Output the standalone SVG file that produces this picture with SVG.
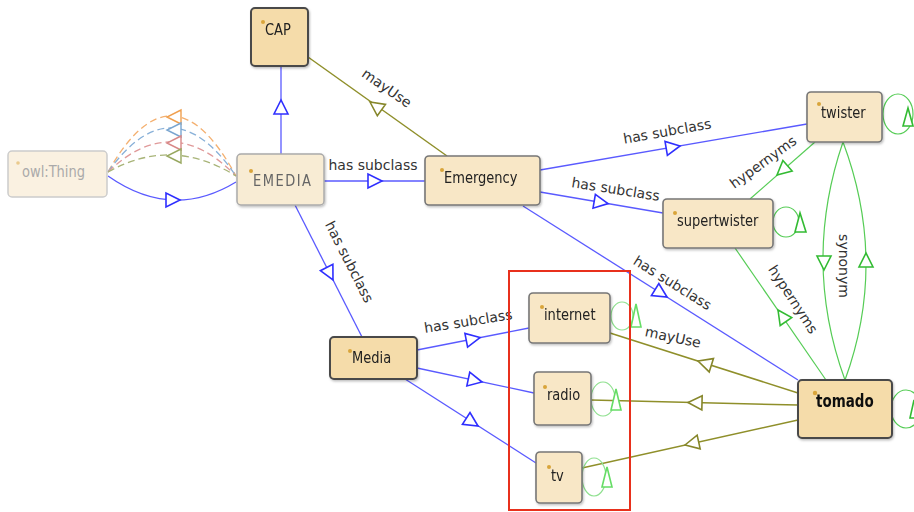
<svg xmlns="http://www.w3.org/2000/svg" width="914" height="512" viewBox="0 0 914 512">
<style>
.n rect{rx:4;ry:4}
.strong{fill:#f5dcaa;stroke:#4a4a4a;stroke-width:2}
.mid{fill:#f8e7c6;stroke:#777;stroke-width:1.6}
.lite{fill:#f8ecd4;stroke:#aaa;stroke-width:1.5}
.faint{fill:#faf1e1;stroke:#ccc;stroke-width:1.5}
.nt{font-family:"DejaVu Sans Condensed","DejaVu Sans",sans-serif;font-stretch:condensed;font-size:14.5px;fill:#222}
.lbl{font-family:"DejaVu Sans",sans-serif;font-size:14px;fill:#333;text-anchor:middle}
.dot{fill:#d9a43a}
.blue{stroke:#5a5aff;stroke-width:1.3;fill:none}
.olive{stroke:#8f8f2a;stroke-width:1.5;fill:none}
.green{stroke:#55cc55;stroke-width:1.2;fill:none}
.lgreen{stroke:#8fe08f;stroke-width:1.2;fill:none}
.ab{fill:#fff;stroke:#2f2fff;stroke-width:1.6}
.ao{fill:#fff;stroke:#86862a;stroke-width:1.6}
.ag{fill:#fff;stroke:#33bb33;stroke-width:1.6}
</style>
<defs>
<path id="tri" d="M0,0 L-14,-7 L-14,7 Z"/>
<filter id="sh" x="-10%" y="-10%" width="130%" height="140%"><feDropShadow dx="1" dy="1.5" stdDeviation="1" flood-color="#000" flood-opacity="0.25"/></filter>
</defs>

<g id="connectors">
  <!-- owl:Thing -> EMEDIA dashed arcs -->
  <path d="M108,172 Q172,58 236,176" fill="none" stroke="#f4b070" stroke-width="1.3" stroke-dasharray="7,4"/>
  <path d="M108,172 Q172,82 236,176" fill="none" stroke="#88b0d8" stroke-width="1.3" stroke-dasharray="7,4"/>
  <path d="M108,172 Q172,110 236,176" fill="none" stroke="#e09a9a" stroke-width="1.3" stroke-dasharray="7,4"/>
  <path d="M108,172 Q172,136 236,176" fill="none" stroke="#a8b478" stroke-width="1.3" stroke-dasharray="7,4"/>
  <use href="#tri" transform="translate(167,117) rotate(180)" fill="#fff" stroke="#f0a050" stroke-width="1.4"/>
  <use href="#tri" transform="translate(167,130) rotate(180)" fill="#fff" stroke="#7aa6d0" stroke-width="1.4"/>
  <use href="#tri" transform="translate(167,143) rotate(180)" fill="#fff" stroke="#d88888" stroke-width="1.4"/>
  <use href="#tri" transform="translate(167,156) rotate(180)" fill="#fff" stroke="#98a860" stroke-width="1.4"/>
  <path class="blue" d="M108,176 Q172,221 236,182"/>
  <use href="#tri" class="ab" transform="translate(180,200)"/>

  <!-- EMEDIA -> CAP -->
  <line class="blue" x1="281" y1="154" x2="281" y2="66"/>
  <use href="#tri" class="ab" transform="translate(281,100) rotate(-90)"/>

  <!-- Emergency -> CAP mayUse -->
  <line class="olive" x1="447" y1="156" x2="308" y2="57"/>
  <use href="#tri" class="ao" transform="translate(370,102) rotate(-144.5)"/>
  <text class="lbl" transform="translate(384,92) rotate(35)">mayUse</text>

  <!-- EMEDIA -> Emergency -->
  <line class="blue" x1="324" y1="181" x2="425" y2="181"/>
  <use href="#tri" class="ab" transform="translate(382,181)"/>
  <text class="lbl" x="373" y="170">has subclass</text>

  <!-- Emergency -> twister -->
  <line class="blue" x1="540" y1="170" x2="807" y2="124"/>
  <use href="#tri" class="ab" transform="translate(680,146) rotate(-9.8)"/>
  <text class="lbl" transform="translate(668,136) rotate(-10)">has subclass</text>

  <!-- Emergency -> supertwister -->
  <line class="blue" x1="540" y1="192" x2="663" y2="213"/>
  <use href="#tri" class="ab" transform="translate(608,203.6) rotate(9.7)"/>
  <text class="lbl" transform="translate(615,194) rotate(9)">has subclass</text>

  <!-- Emergency -> tomado -->
  <line class="blue" x1="523" y1="206" x2="798" y2="380"/>
  <use href="#tri" class="ab" transform="translate(667,297) rotate(32)"/>
  <text class="lbl" transform="translate(670,287) rotate(32)">has subclass</text>

  <!-- EMEDIA -> Media -->
  <line class="blue" x1="295" y1="205" x2="362" y2="337"/>
  <use href="#tri" class="ab" transform="translate(333,280) rotate(63)"/>
  <text class="lbl" transform="translate(345,264) rotate(63)">has subclass</text>

  <!-- Media -> internet/radio/tv -->
  <line class="blue" x1="417" y1="350" x2="529" y2="328"/>
  <use href="#tri" class="ab" transform="translate(480,337.6) rotate(-11)"/>
  <text class="lbl" transform="translate(469,326) rotate(-9)">has subclass</text>
  <line class="blue" x1="417" y1="368" x2="534" y2="393"/>
  <use href="#tri" class="ab" transform="translate(482,382) rotate(12)"/>
  <line class="blue" x1="405" y1="379" x2="536" y2="463"/>
  <use href="#tri" class="ab" transform="translate(478,426) rotate(32.7)"/>

  <!-- hypernyms -->
  <line class="green" x1="815" y1="142" x2="750" y2="199"/>
  <use href="#tri" class="ag" transform="translate(777,175) rotate(138.7)"/>
  <text class="lbl" transform="translate(766,166) rotate(-36)">hypernyms</text>
  <line class="green" x1="826" y1="380" x2="735" y2="248"/>
  <use href="#tri" class="ag" transform="translate(778,310) rotate(-124.6)"/>
  <text class="lbl" transform="translate(789,302) rotate(57)">hypernyms</text>

  <!-- synonym -->
  <path class="green" d="M843,142 Q802,262 845,380"/>
  <path class="green" d="M843,142 Q888,262 845,380"/>
  <use href="#tri" class="ag" transform="translate(824,270) rotate(90)"/>
  <use href="#tri" class="ag" transform="translate(866,253) rotate(-90)"/>
  <text class="lbl" transform="translate(839,266) rotate(90)">synonym</text>

  <!-- mayUse tomado -> internet/radio/tv -->
  <line class="olive" x1="798" y1="393" x2="610" y2="333"/>
  <use href="#tri" class="ao" transform="translate(698,361) rotate(-162.3)"/>
  <text class="lbl" transform="translate(672,342) rotate(12)">mayUse</text>
  <line class="olive" x1="798" y1="405" x2="591" y2="400"/>
  <use href="#tri" class="ao" transform="translate(688,402.5) rotate(181.4)"/>
  <line class="olive" x1="798" y1="420" x2="582" y2="468"/>
  <use href="#tri" class="ao" transform="translate(685,445) rotate(167.5)"/>

  <!-- self loops -->
  <ellipse class="green" cx="898" cy="114" rx="15" ry="20"/>
  <polygon class="ag" points="908,108 903,126 913,126"/>
  <ellipse class="green" cx="786" cy="222" rx="13" ry="15"/>
  <polygon class="ag" points="800,213 795,232 806,232"/>
  <ellipse class="green" cx="906" cy="409" rx="15" ry="19"/>
  <polygon class="ag" points="914,400 910,418 918,418"/>
  <ellipse class="lgreen" cx="622" cy="316" rx="11" ry="14"/>
  <polygon class="ag" points="636,304 631,327 641,327" style="stroke:#66dd66"/>
  <ellipse class="lgreen" cx="603" cy="399" rx="12" ry="17"/>
  <polygon class="ag" points="616,389 611,410 621,410" style="stroke:#66dd66"/>
  <ellipse class="lgreen" cx="594" cy="477" rx="12" ry="19"/>
  <polygon class="ag" points="607,467 602,487 612,487" style="stroke:#66dd66"/>
</g>

<g id="node-owlThing" class="n"><rect class="faint" x="8" y="151" width="99" height="46"/><circle class="dot" cx="18" cy="163" r="1.8" opacity="0.5"/><text class="nt" transform="translate(22 177) scale(1 1.15)" style="fill:#aaa">owl:Thing</text></g>
<g id="node-EMEDIA" class="n" filter="url(#sh)"><rect class="lite" x="237" y="154" width="87" height="51"/><circle class="dot" cx="251" cy="171" r="2"/><text class="nt" transform="translate(253 186) scale(1 1.15)" style="fill:#666;letter-spacing:1.5px">EMEDIA</text></g>
<g id="node-CAP" class="n" filter="url(#sh)"><rect class="strong" x="251" y="8" width="57" height="58"/><circle class="dot" cx="263" cy="22" r="2"/><text class="nt" transform="translate(265 35) scale(1 1.15)">CAP</text></g>
<g id="node-Emergency" class="n" filter="url(#sh)"><rect class="mid" x="425" y="156" width="115" height="49"/><circle class="dot" cx="442" cy="170" r="2"/><text class="nt" transform="translate(444 183) scale(1 1.15)">Emergency</text></g>
<g id="node-twister" class="n" filter="url(#sh)"><rect class="mid" x="807" y="92" width="75" height="50"/><circle class="dot" cx="819" cy="104" r="2"/><text class="nt" transform="translate(821 118) scale(1 1.15)">twister</text></g>
<g id="node-supertwister" class="n" filter="url(#sh)"><rect class="mid" x="663" y="199" width="110" height="49"/><circle class="dot" cx="675" cy="213" r="2"/><text class="nt" transform="translate(677 226) scale(1 1.15)">supertwister</text></g>
<g id="node-Media" class="n" filter="url(#sh)"><rect class="strong" x="330" y="337" width="87" height="42"/><circle class="dot" cx="350" cy="351" r="2"/><text class="nt" transform="translate(352 363) scale(1 1.15)">Media</text></g>
<g id="node-internet" class="n" filter="url(#sh)"><rect class="mid" x="529" y="293" width="81" height="50"/><circle class="dot" cx="542" cy="307" r="2"/><text class="nt" transform="translate(544 320) scale(1 1.15)">internet</text></g>
<g id="node-radio" class="n" filter="url(#sh)"><rect class="mid" x="534" y="372" width="57" height="53"/><circle class="dot" cx="545" cy="387" r="2"/><text class="nt" transform="translate(547 400) scale(1 1.15)">radio</text></g>
<g id="node-tv" class="n" filter="url(#sh)"><rect class="mid" x="536" y="452" width="46" height="51"/><circle class="dot" cx="549" cy="467" r="2"/><text class="nt" transform="translate(551 481) scale(1 1.15)">tv</text></g>
<g id="node-tomado" class="n" filter="url(#sh)"><rect class="strong" x="798" y="380" width="94" height="58"/><circle class="dot" cx="815" cy="393" r="2.2"/><text class="nt" transform="translate(816 407) scale(1 1.15)" style="font-weight:bold;font-size:15px;fill:#111">tomado</text></g>

<rect id="highlight" x="509" y="271" width="121" height="239" fill="none" stroke="#e8301c" stroke-width="2"/>
</svg>
